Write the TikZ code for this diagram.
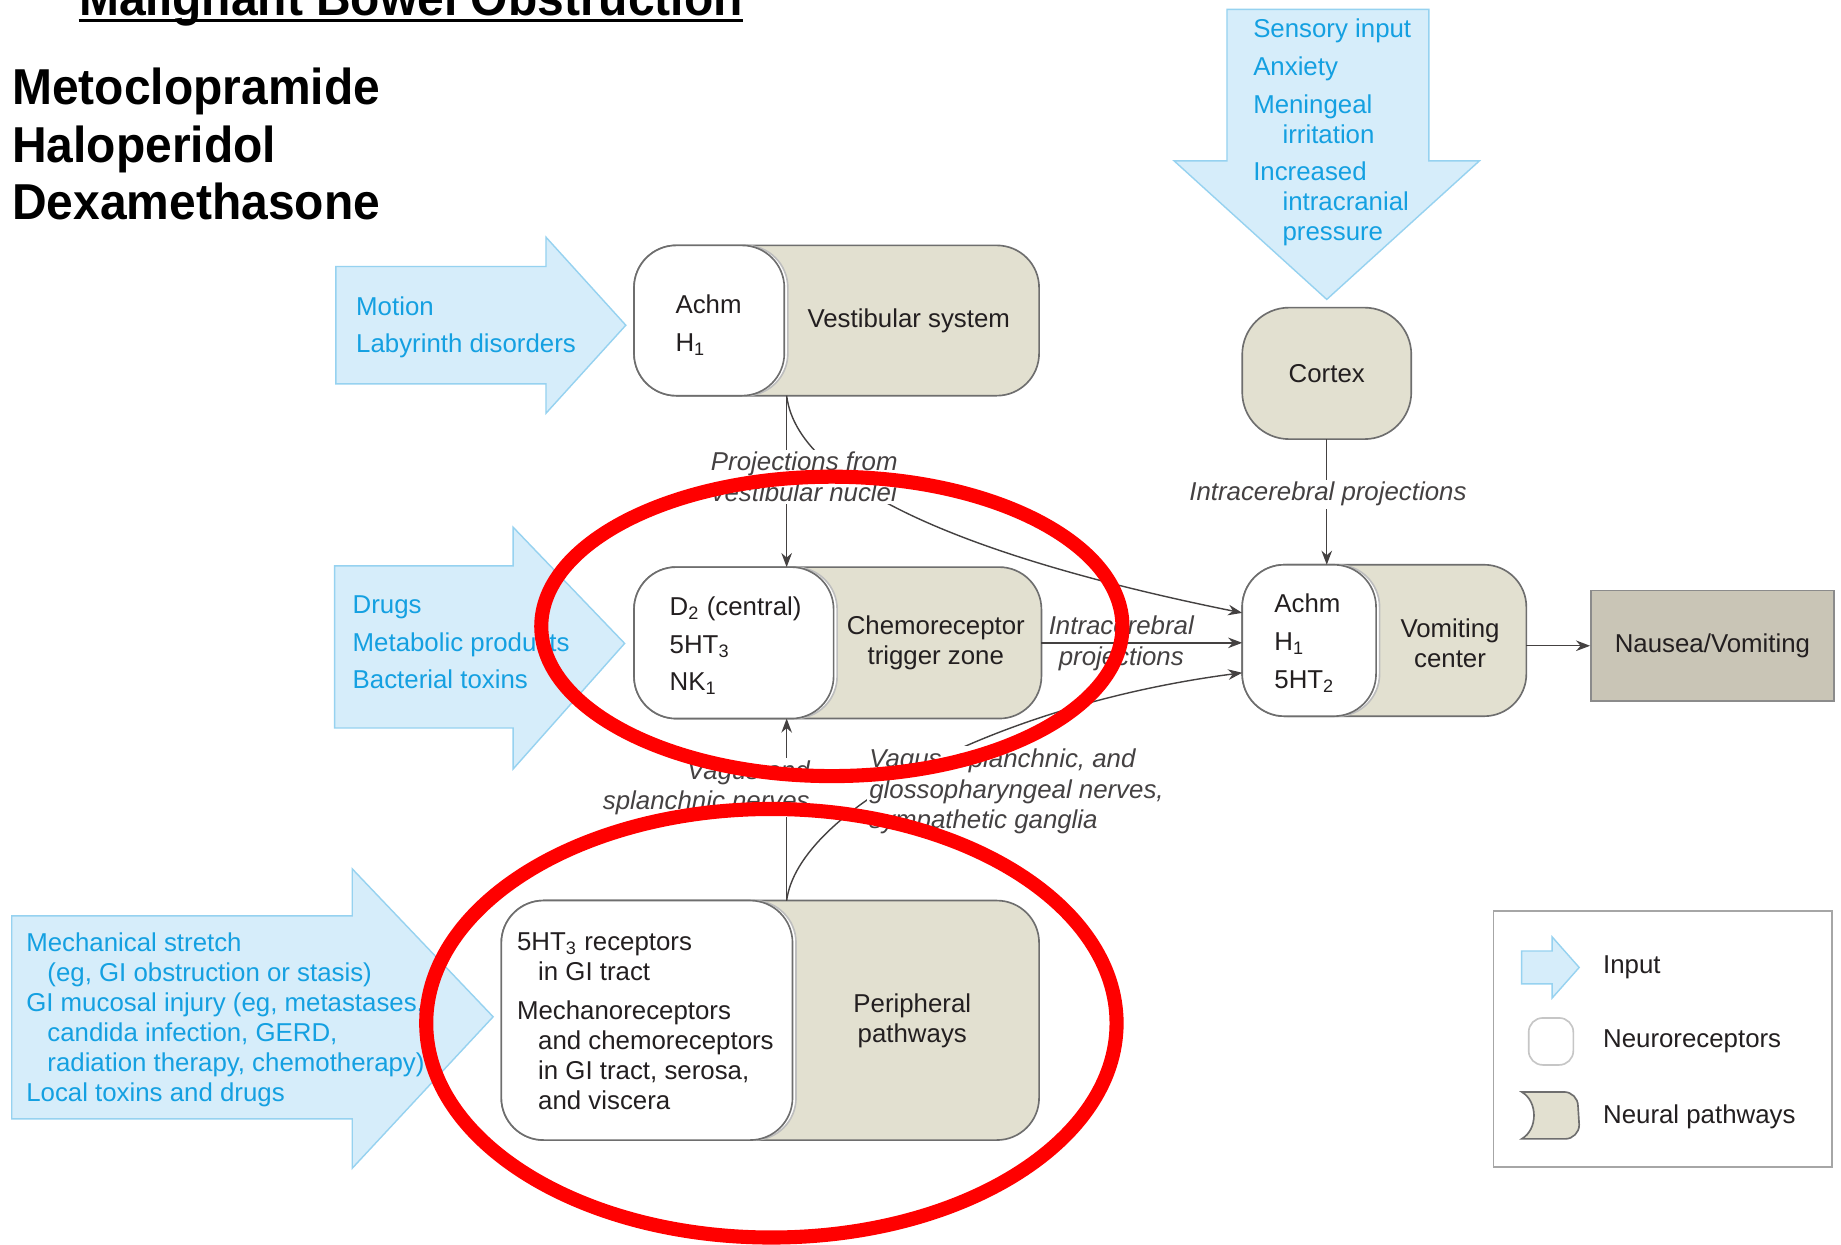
\documentclass[tikz,border=0pt]{standalone}
\usepackage{fontspec}
\setmainfont{Liberation Sans}
\usetikzlibrary{arrows.meta}
\definecolor{inblue}{RGB}{214,237,250}
\definecolor{inedge}{RGB}{150,210,240}
\definecolor{intext}{RGB}{20,160,225}
\definecolor{pathtan}{RGB}{226,224,208}
\definecolor{boxedge}{RGB}{110,110,110}
\definecolor{outbox}{RGB}{201,197,182}
\definecolor{ink}{RGB}{35,31,32}

\begin{document}
\begin{tikzpicture}[x=0.5pt,y=-0.5pt,
  every node/.style={font=\fontsize{11}{12.75}\selectfont, text=ink},
  inarrow/.style={fill=inblue, draw=inedge, line width=0.6pt, line join=miter},
  intxt/.style={text=intext, align=left, anchor=north west, inner sep=0pt},
  pathbox/.style={draw=boxedge, fill=pathtan, line width=0.7pt, rounded corners=18pt, outer sep=0pt, inner sep=0pt},
  recbox/.style={draw=boxedge, fill=white, line width=0.7pt, rounded corners=18pt, outer sep=0pt, inner sep=0pt},
  ghost/.style={recbox, draw=boxedge!45},
  rectxt/.style={align=left, anchor=north west, inner sep=0pt},
  pathtxt/.style={align=center, inner sep=0pt},
  proj/.style={font=\fontsize{11}{13}\selectfont\itshape, text=ink!85, inner sep=1pt},
  conn/.style={draw=ink!85, line width=0.6pt, -{Stealth[length=6pt,width=4.5pt]}},
  bigtxt/.style={font=\fontsize{21.5}{25}\selectfont\bfseries\addfontfeature{FakeStretch=0.95}, text=black, anchor=base west, inner sep=0pt},
  ring/.style={draw=red, line width=6pt}
]
\useasboundingbox (0,0) rectangle (1568,1060);
\fill[white] (0,0) rectangle (1568,1060);

% heading and drug list
\node[bigtxt] (title) at (67,13) {Malignant Bowel Obstruction};
\draw[line width=1.5pt] ([yshift=-2.25pt]title.base west) -- ([yshift=-2.25pt]title.base east);
\node[bigtxt] (drugA) at (10,89) {Metoclopramide};
\node[bigtxt] (drugB) at (10,138) {Haloperidol};
\node[bigtxt] (drugC) at (10,187) {Dexamethasone};

% input arrows
\path[inarrow] (286,227) -- (465,227) -- (465,202) -- (533,277) -- (465,352) -- (465,327) -- (286,327) -- cycle;
\path[inarrow] (285,482) -- (437,482) -- (437,449) -- (532,548) -- (437,655) -- (437,620) -- (285,620) -- cycle;
\path[inarrow] (10,780) -- (300,780) -- (300,740) -- (420,866) -- (300,995) -- (300,953) -- (10,953) -- cycle;
\path[inarrow] (1045,8) -- (1217,8) -- (1217,137) -- (1260,137) -- (1130,255) -- (1000,137) -- (1045,137) -- cycle;

\node[intxt] (inMotion) at (303,252) {Motion\\[3.25pt]Labyrinth disorders};
\node[intxt] (inDrugs) at (300,507) {Drugs\\[3.25pt]Metabolic products\\[3.25pt]Bacterial toxins};
\node[intxt] (inMech) at (22,794) {Mechanical stretch\\
  \hspace*{9pt}(eg, GI obstruction or stasis)\\
  GI mucosal injury (eg, metastases,\\
  \hspace*{9pt}candida infection, GERD,\\
  \hspace*{9pt}radiation therapy, chemotherapy)\\
  Local toxins and drugs};
\node[intxt] (inSens) at (1067,16) {Sensory input\\[3.25pt]Anxiety\\[3.25pt]Meningeal\\
  \hspace*{12.5pt}irritation\\[3.25pt]Increased\\
  \hspace*{12.5pt}intracranial\\
  \hspace*{12.5pt}pressure};

% vestibular system
\node[pathbox, minimum width=172.5pt, minimum height=64pt] (vest) at (712.5,273) {};
\node[ghost, minimum width=64pt, minimum height=64pt] (vestG) at (607,273) {};
\node[recbox, minimum width=64pt, minimum height=64pt] (vestR) at (604,273) {};
\node[rectxt] (vestL) at (575,251) {Achm\\[3.25pt]H\textsubscript{1}};
\node[pathtxt] (vestT) at (774,273) {Vestibular system};

% chemoreceptor trigger zone
\node[pathbox, minimum width=173.5pt, minimum height=64.5pt] (ctz) at (713.5,547.5) {};
\node[ghost, minimum width=85pt, minimum height=64.5pt] (ctzG) at (628,547.5) {};
\node[recbox, minimum width=85pt, minimum height=64.5pt] (ctzR) at (625,547.5) {};
\node[rectxt] (ctzL) at (570,508) {D\textsubscript{2} (central)\\[3.25pt]5HT\textsubscript{3}\\[3.25pt]NK\textsubscript{1}};
\node[pathtxt] (ctzT) at (797,547.5) {Chemoreceptor\\trigger zone};

% peripheral pathways
\node[pathbox, minimum width=229pt, minimum height=102pt] (per) at (656,869) {};
\node[ghost, minimum width=124pt, minimum height=102pt] (perG) at (554,869) {};
\node[recbox, minimum width=124pt, minimum height=102pt] (perR) at (551,869) {};
\node[rectxt] (perL) at (440,794) {5HT\textsubscript{3} receptors\\
  \hspace*{9pt}in GI tract\\[3.75pt]Mechanoreceptors\\
  \hspace*{9pt}and chemoreceptors\\
  \hspace*{9pt}in GI tract, serosa,\\
  \hspace*{9pt}and viscera};
\node[pathtxt] (perT) at (777,869.5) {Peripheral\\pathways};

% cortex
\node[pathbox, rounded corners=20pt, minimum width=72pt, minimum height=56pt] (cortex) at (1130,318) {Cortex};

% vomiting center
\node[pathbox, minimum width=121pt, minimum height=64.5pt] (vom) at (1179,545.5) {};
\node[ghost, minimum width=57pt, minimum height=64.5pt] (vomG) at (1118,545.5) {};
\node[recbox, minimum width=57pt, minimum height=64.5pt] (vomR) at (1115,545.5) {};
\node[rectxt] (vomL) at (1085,505) {Achm\\[3.75pt]H\textsubscript{1}\\[3.25pt]5HT\textsubscript{2}};
\node[pathtxt] (vomT) at (1235,547.5) {Vomiting\\center};

% outcome
\node[draw=boxedge!80, fill=outbox, line width=0.7pt, minimum width=103.5pt, minimum height=47pt, inner sep=0pt] (nausea) at (1458.5,550) {Nausea/Vomiting};

% connectors
\draw[conn] ([xshift=-21.25pt]vest.south) -- ([xshift=-21.25pt]vest.south |- ctz.north);
\draw[conn] ([xshift=-21.25pt]vest.south) .. controls (680,420) and (850,480) .. ([yshift=11.75pt]vom.west);
\draw[conn] (ctz.east) -- (ctz.east -| vom.west);
\draw[conn] ([xshift=7pt]per.north) -- ([xshift=7pt]per.north |- ctz.south);
\draw[conn] ([xshift=7pt]per.north) .. controls (680,690) and (850,600) .. ([yshift=-13.75pt]vom.west);
\draw[conn] (cortex.south) -- (cortex.south |- vom.north);
\draw[conn] (vom.east |- nausea.west) -- (nausea.west);

% connector labels
\node[proj, align=center, fill=white] (lbVest) at (685,406) {Projections from\\vestibular nuclei};
\node[proj, fill=white] (lbCortex) at (1131,421) {Intracerebral projections};
\node[proj, align=center] (lbCtz) at (955,548) {Intracerebral\\projections};
\node[proj, align=right, fill=white, anchor=east] (lbVagus) at (692,671) {Vagus and\\splanchnic nerves};
\node[proj, align=left, fill=white, anchor=west] (lbGlosso) at (738,674) {Vagus, splanchnic, and\\glossopharyngeal nerves,\\sympathetic ganglia};

% legend
\node[draw=gray!70, line width=0.8pt, minimum width=144pt, minimum height=109pt, inner sep=0pt] (legend) at (1416,885) {};
\path[inarrow] (1296,810) -- (1322,810) -- (1322,798) -- (1345,824) -- (1322,850) -- (1322,838) -- (1296,838) -- cycle;
\node[recbox, draw=gray!45, rounded corners=6pt, minimum width=19pt, minimum height=20pt] (lgRec) at (1321,887) {};
\path[draw=boxedge, fill=pathtan, line width=0.7pt] (1296,930) -- (1332,930) arc[start angle=90, end angle=0, radius=6pt] -- (1345,958) arc[start angle=0, end angle=-90, radius=6pt] -- (1296,970) .. controls (1310,962) and (1310,938) .. cycle;
\node[anchor=west, inner sep=0pt] (lgIn) at (1365,824) {Input};
\node[anchor=west, inner sep=0pt] (lgRecT) at (1365,887) {Neuroreceptors};
\node[anchor=west, inner sep=0pt] (lgPathT) at (1365,951) {Neural pathways};

% highlight rings
\draw[ring] (708.5,533.5) ellipse [x radius=123.75pt, y radius=63.75pt];
\draw[ring] (657,871.5) ellipse [x radius=147pt, y radius=91.25pt];
\end{tikzpicture}
\end{document}
